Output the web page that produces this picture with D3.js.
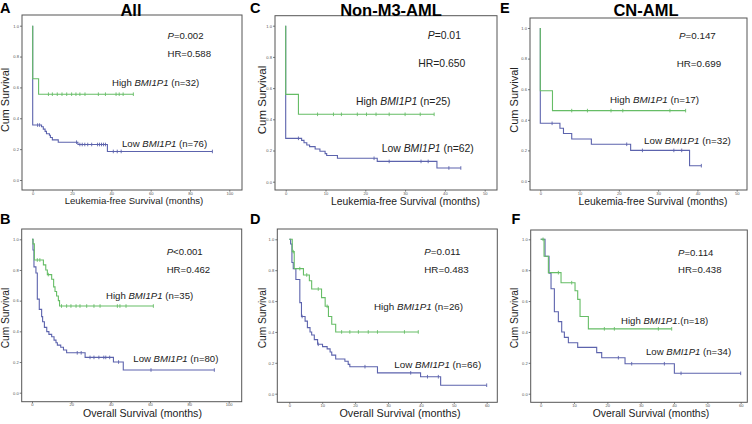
<!DOCTYPE html>
<html><head><meta charset="utf-8">
<script src="https://cdn.jsdelivr.net/npm/d3@7/dist/d3.min.js"></script>
<style>body{margin:0;background:#fff}svg{display:block}</style>
</head><body><svg id="c" width="752" height="424"></svg>
<script>
// ---------- DATA ----------
const panelLetters = ["A", "B", "C", "D", "E", "F"];
const panelTitles = ["All", "", "Non-M3-AML", "", "CN-AML", ""];
const xTitles = ["Leukemia-free Survival (months)", "Overall Survival (months)",
  "Leukemia-free Survival (months)", "Overall Survival (months)",
  "Leukemia-free Survival (months)", "Overall Survival (months)"];
const yTitle = "Cum Survival";
const pValues = ["=0.002", "<0.001", "=0.01", "=0.011", "=0.147", "=0.114"];
const hrValues = ["0.588", "0.462", "0.650", "0.483", "0.699", "0.438"];
const highN = [32, 35, 25, 26, 17, 18];
const lowN = [76, 80, 62, 66, 32, 34];
const highSuffix = [" (n=", " (n=", " (n=", " (n=", " (n=", ".(n="];
const geneName = "BMI1P1";
const yTickValues = [0, 0.2, 0.4, 0.6, 0.8, 1.0];
const xTicks100 = [0, 20, 40, 60, 80, 100];
const xTicks50 = [0, 10, 20, 30, 40, 50];
const xTicks60 = [0, 10, 20, 30, 40, 50, 60];

// A: LFS, All
const A_highT = [0, 0, 3];
const A_highS = [1, 0.656, 0.556];
const A_highEnd = 51.2;
const A_highCens = [8, 10, 12.5, 14.9, 17.3, 19.8, 22, 24, 26.6, 33.4, 37, 42.4, 44, 46, 51.2];
const A_lowT = [0, 0, 4.5, 5.4, 6.3, 7, 8.5, 9, 10, 13, 23, 38];
const A_lowS = [1, 0.356, 0.345, 0.33, 0.315, 0.30, 0.29, 0.275, 0.26, 0.245, 0.23, 0.185];
const A_lowEnd = 91.4;
const A_lowCens = [2.5, 3.5, 22.3, 24, 25.2, 26.5, 28, 30, 33, 34, 35, 36, 37, 41, 43, 45, 91.4];

// B: OS, All
const B_highT = [0, 0.5, 1.2, 5.8, 7, 7.8, 10, 11, 11.7, 12.5, 13.4, 14];
const B_highS = [1, 0.97, 0.865, 0.833, 0.80, 0.77, 0.74, 0.69, 0.66, 0.63, 0.60, 0.565];
const B_highEnd = 61.7;
const B_highCens = [2.7, 4, 8.3, 15, 17.6, 19.8, 22.4, 24.4, 27.8, 31.5, 34.6, 43.4, 44.7, 47.8, 61.7];
const B_lowT = [0, 0.5, 1, 2, 2.7, 3.7, 4.9, 5.4, 6.3, 7.5, 8.6, 10, 11.2, 12.2, 12.9, 14.6, 16, 17.6, 27, 41.4, 46.4];
const B_lowS = [1, 0.93, 0.82, 0.78, 0.61, 0.543, 0.496, 0.463, 0.426, 0.398, 0.38, 0.365, 0.343, 0.326, 0.31, 0.296, 0.278, 0.26, 0.23, 0.20, 0.148];
const B_lowEnd = 92.7;
const B_lowCens = [23, 25, 29.5, 31.5, 34, 36.5, 37.5, 39.5, 44, 60.5, 92.7];

// C: LFS, Non-M3-AML
const C_highT = [0, 0, 3.2];
const C_highS = [1, 0.56, 0.432];
const C_highEnd = 37.3;
const C_highCens = [8, 12, 14, 18, 20.3, 22.7, 26, 30, 33.8, 37.3];
const C_lowT = [0, 0, 4, 4.6, 5.3, 6, 7.4, 8.6, 9.9, 10.3, 13, 23, 38];
const C_lowS = [1, 0.278, 0.265, 0.25, 0.235, 0.225, 0.21, 0.195, 0.18, 0.168, 0.15, 0.13, 0.088];
const C_lowEnd = 44;
const C_lowCens = [3.2, 22.2, 26, 34, 35.8, 41, 44];

// D: OS, Non-M3-AML
const D_highT = [0, 0.9, 1.5, 4.3, 6.1, 6.8, 9.8, 10.9, 11.9, 12.9, 14.1];
const D_highS = [1, 0.92, 0.81, 0.769, 0.732, 0.678, 0.622, 0.566, 0.50, 0.45, 0.40];
const D_highEnd = 39.2;
const D_highCens = [1.2, 3.2, 5.3, 8.8, 11.5, 15.9, 18.4, 21, 24, 26.8, 35, 39.2];
const D_lowT = [0, 0.4, 0.8, 1.2, 2, 3.2, 3.7, 4.8, 5.5, 6.3, 6.8, 7.6, 8.6, 10.1, 11.5, 12.4, 12.9, 14.1, 16.9, 17.9, 18.4, 26.8, 39.9, 46];
const D_lowS = [1, 0.97, 0.85, 0.81, 0.74, 0.59, 0.50, 0.47, 0.428, 0.40, 0.38, 0.35, 0.32, 0.305, 0.29, 0.27, 0.25, 0.225, 0.21, 0.19, 0.175, 0.135, 0.11, 0.055];
const D_lowEnd = 60;
const D_lowCens = [3.9, 8.8, 23, 36.9, 42, 45.3, 60];

// E: LFS, CN-AML
const E_highT = [0, 0, 3.1];
const E_highS = [1, 0.59, 0.46];
const E_highEnd = 37;
const E_highCens = [8, 12, 18, 21, 33, 37];
const E_lowT = [0, 0, 5, 5.9, 8, 13, 23, 38];
const E_lowS = [1, 0.377, 0.345, 0.31, 0.275, 0.24, 0.20, 0.10];
const E_lowEnd = 41;
const E_lowCens = [3, 22, 26, 34, 36, 41];

// F: OS, CN-AML
const F_highT = [0, 1, 2.3, 6.1, 10.3, 11.1, 11.8, 14.3];
const F_highS = [1, 0.89, 0.784, 0.719, 0.667, 0.611, 0.50, 0.42];
const F_highEnd = 39.3;
const F_highCens = [0.7, 5.3, 9.3, 19.1, 22.1, 35.3, 39.3];
const F_lowT = [0, 1.3, 2.5, 3.1, 4.1, 5.3, 6.3, 7.1, 8.3, 11.1, 16.8, 18.3, 25.3, 40.1];
const F_lowS = [1, 0.89, 0.78, 0.68, 0.531, 0.467, 0.40, 0.365, 0.33, 0.30, 0.266, 0.233, 0.194, 0.132];
const F_lowEnd = 60;
const F_lowCens = [23.3, 27.3, 37.1, 42.1, 60];

// ---------- LAYOUT / STYLE ----------
const GREEN = "#66bd66", BLUE = "#5c63ad", FRAME = "#555";
const FONT = "'Liberation Sans', Arial, Helvetica, sans-serif";

const panels = [
  { id: 0, box: [22, 15, 242, 190], xr: [32.7, 229.3], yr: [180, 25.7], xdom: [0, 100], xt: xTicks100,
    high: [A_highT, A_highS, A_highEnd, A_highCens], low: [A_lowT, A_lowS, A_lowEnd, A_lowCens],
    letter: [0, 12.5], title: [131, 16], xTitle: [134, 203.8, 9.6], yTitleP: [9, 100, 10.8],
    pPos: [167.5, 39], hrPos: [167.5, 57.3], hiPos: [112, 85.5], loPos: [122, 147], fs: 9.6 },
  { id: 1, box: [21.7, 229, 241.7, 401.7], xr: [32, 228.7], yr: [392.7, 239.3], xdom: [0, 100], xt: xTicks100,
    high: [B_highT, B_highS, B_highEnd, B_highCens], low: [B_lowT, B_lowS, B_lowEnd, B_lowCens],
    letter: [0, 223.5], title: null, xTitle: [142.5, 416.5, 10.6], yTitleP: [9, 318, 10.2],
    pPos: [166.7, 255], hrPos: [166.7, 273], hiPos: [106, 298.5], loPos: [133.3, 362], fs: 9.6 },
  { id: 2, box: [275, 15.7, 497, 190], xr: [285.7, 484.7], yr: [181.7, 25.7], xdom: [0, 50], xt: xTicks50,
    high: [C_highT, C_highS, C_highEnd, C_highCens], low: [C_lowT, C_lowS, C_lowEnd, C_lowCens],
    letter: [250, 12.5], title: [391, 16], xTitle: [405.5, 205, 10.3], yTitleP: [265.5, 100, 11.5],
    pPos: [427.7, 39], hrPos: [418.3, 66.5], hiPos: [356, 105], loPos: [381.7, 152], fs: 10.4 },
  { id: 3, box: [277.3, 229, 497.3, 402.3], xr: [289.3, 486.7], yr: [393.7, 239.3], xdom: [0, 60], xt: xTicks60,
    high: [D_highT, D_highS, D_highEnd, D_highCens], low: [D_lowT, D_lowS, D_lowEnd, D_lowCens],
    letter: [250, 223.5], title: null, xTitle: [400, 417, 10.8], yTitleP: [265.5, 318, 10.2],
    pPos: [424.3, 255], hrPos: [424.3, 273], hiPos: [374, 310], loPos: [394.3, 367.5], fs: 9.8 },
  { id: 4, box: [530, 18, 747, 190], xr: [540.3, 736.7], yr: [181, 28], xdom: [0, 50], xt: xTicks50,
    high: [E_highT, E_highS, E_highEnd, E_highCens], low: [E_lowT, E_lowS, E_lowEnd, E_lowCens],
    letter: [500, 12.5], title: [646, 16], xTitle: [653, 205, 10.3], yTitleP: [517.5, 100, 11],
    pPos: [679, 39], hrPos: [676.7, 66.5], hiPos: [610, 103], loPos: [644, 144], fs: 9.8 },
  { id: 5, box: [530.7, 230, 747.3, 402.3], xr: [540.7, 740.7], yr: [393.7, 239.3], xdom: [0, 60], xt: xTicks60,
    high: [F_highT, F_highS, F_highEnd, F_highCens], low: [F_lowT, F_lowS, F_lowEnd, F_lowCens],
    letter: [511.5, 223.5], title: null, xTitle: [651, 417, 10.4], yTitleP: [517.5, 318, 10.2],
    pPos: [678, 256], hrPos: [678, 273], hiPos: [621, 323.5], loPos: [646, 355], fs: 9.6 }
];

const svg = d3.select("#c");

function survAt(T, S, t) {
  let s = S[0];
  for (let i = 0; i < T.length; i++) if (T[i] <= t) s = S[i];
  return s;
}

panels.forEach(p => {
  const g = svg.append("g");
  const x = d3.scaleLinear().domain(p.xdom).range(p.xr);
  const y = d3.scaleLinear().domain([0, 1]).range(p.yr);
  const [bx0, by0, bx1, by1] = p.box;

  // frame
  g.append("rect").attr("x", bx0).attr("y", by0).attr("width", bx1 - bx0).attr("height", by1 - by0)
    .attr("fill", "none").attr("stroke", FRAME).attr("stroke-width", 1);

  // axes
  const ya = d3.axisLeft(y).tickValues(yTickValues).tickFormat(d3.format(".1f")).tickSize(2).tickPadding(1);
  const yg = g.append("g").attr("transform", `translate(${bx0},0)`).call(ya);
  const xa = d3.axisBottom(x).tickValues(p.xt).tickFormat(d3.format("d")).tickSize(1.6).tickPadding(0.3);
  const xg = g.append("g").attr("transform", `translate(0,${by1})`).call(xa);
  [yg, xg].forEach(a => {
    a.select(".domain").remove();
    a.selectAll("line").attr("stroke", FRAME).attr("stroke-width", 0.8);
    a.selectAll("text").attr("font-size", 4.1).attr("fill", "#555").attr("font-family", FONT);
  });

  // curves
  const line = d3.line().x(d => x(d[0])).y(d => y(d[1])).curve(d3.curveStepAfter);
  [[p.low, BLUE], [p.high, GREEN]].forEach(([c, col]) => {
    const [T, S, end, cens] = c;
    const pts = T.map((t, i) => [t, S[i]]);
    pts.push([end, S[S.length - 1]]);
    g.append("path").attr("d", line(pts)).attr("fill", "none").attr("stroke", col).attr("stroke-width", 1.1);
    g.selectAll(null).data(cens).enter().append("line")
      .attr("x1", d => x(d)).attr("x2", d => x(d))
      .attr("y1", d => y(survAt(T, S, d)) - 1.8).attr("y2", d => y(survAt(T, S, d)) + 1.8)
      .attr("stroke", col).attr("stroke-width", 0.9);
  });

  // letter & title
  g.append("text").attr("x", p.letter[0]).attr("y", p.letter[1]).text(panelLetters[p.id])
    .attr("font-family", FONT).attr("font-weight", "bold").attr("font-size", 14.5).attr("fill", "#000");
  if (p.title) {
    g.append("text").attr("x", p.title[0]).attr("y", p.title[1]).attr("text-anchor", "middle")
      .text(panelTitles[p.id]).attr("font-family", FONT).attr("font-weight", "bold")
      .attr("font-size", 16.5).attr("fill", "#000");
  }
  // axis titles
  g.append("text").attr("x", p.xTitle[0]).attr("y", p.xTitle[1]).attr("text-anchor", "middle")
    .text(xTitles[p.id]).attr("font-family", FONT).attr("font-size", p.xTitle[2]).attr("fill", "#222");
  g.append("text").attr("transform", `translate(${p.yTitleP[0]},${p.yTitleP[1]}) rotate(-90)`)
    .attr("text-anchor", "middle").text(yTitle).attr("font-family", FONT)
    .attr("font-size", p.yTitleP[2]).attr("fill", "#222");

  // annotations
  const pt = g.append("text").attr("x", p.pPos[0]).attr("y", p.pPos[1])
    .attr("font-family", FONT).attr("font-size", p.fs).attr("fill", "#222");
  pt.append("tspan").attr("font-style", "italic").text("P");
  pt.append("tspan").text(pValues[p.id]);
  g.append("text").attr("x", p.hrPos[0]).attr("y", p.hrPos[1]).text("HR=" + hrValues[p.id])
    .attr("font-family", FONT).attr("font-size", p.fs).attr("fill", "#222");
  const ht = g.append("text").attr("x", p.hiPos[0]).attr("y", p.hiPos[1])
    .attr("font-family", FONT).attr("font-size", p.fs).attr("fill", "#222");
  ht.append("tspan").text("High ");
  ht.append("tspan").attr("font-style", "italic").text(geneName);
  ht.append("tspan").text(highSuffix[p.id] + highN[p.id] + ")");
  const lt = g.append("text").attr("x", p.loPos[0]).attr("y", p.loPos[1])
    .attr("font-family", FONT).attr("font-size", p.fs).attr("fill", "#222");
  lt.append("tspan").text("Low ");
  lt.append("tspan").attr("font-style", "italic").text(geneName);
  lt.append("tspan").text(" (n=" + lowN[p.id] + ")");
});
</script></body></html>
